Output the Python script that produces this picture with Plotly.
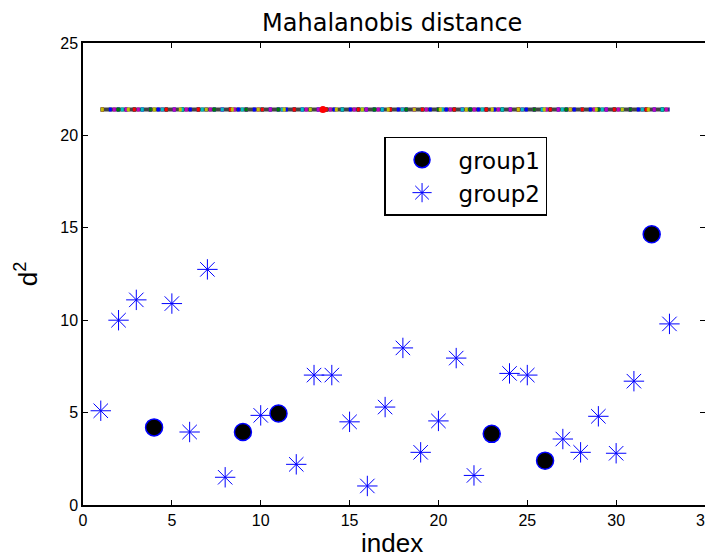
import plotly.graph_objects as go

# group1 (filled circles)
g1_x = [4, 9, 11, 23, 26, 32]
g1_y = [4.2, 3.95, 4.95, 3.85, 2.4, 14.65]

# group2 (asterisks)
g2_x = [1, 2, 3, 5, 6, 7, 8, 10, 12, 13, 14, 15, 16, 17, 18, 19, 20, 21, 22,
        24, 25, 27, 28, 29, 30, 31, 33]
g2_y = [5.1, 10.0, 11.1, 10.9, 3.95, 12.75, 1.5, 4.85, 2.2, 7.03, 7.03, 4.5, 1.03,
        5.3, 8.5, 2.85, 4.55, 7.95, 1.6, 7.12, 7.03, 3.57, 2.85, 4.8, 2.8, 6.7, 9.8]

# critical value line
thr_x = [1, 33]
thr_y = [21.4, 21.4]
red_x = [13.5]
red_y = [21.4]

font = "Liberation Sans, Arial, sans-serif"
wide = "DejaVu Sans, sans-serif"

fig = go.Figure()

# multicolor dotted threshold line
line_styles = [
    ("#444444", "solid", 4),
    ("#0000ff", "3px,5px", 4),
    ("#c000c0", "3px,9px", 4),
    ("#008000", "3px,13px", 4),
    ("#00bfbf", "3px,17px", 4),
    ("#ff0000", "3px,29px", 4),
    ("#bfbf00", "3px,23px", 4),
]
for c, d, w in line_styles:
    fig.add_trace(go.Scatter(x=thr_x, y=thr_y, mode="lines",
                             line=dict(color=c, dash=d, width=w),
                             showlegend=False, hoverinfo="skip"))
fig.add_trace(go.Scatter(x=red_x, y=red_y, mode="markers",
                         marker=dict(color="#ff0000", size=7),
                         showlegend=False))

fig.add_trace(go.Scatter(x=g1_x, y=g1_y, mode="markers", name="group1",
                         marker=dict(symbol="circle", size=17, color="black",
                                     line=dict(color="#0000ff", width=1.5))))
fig.add_trace(go.Scatter(x=g2_x, y=g2_y, mode="markers", name="group2",
                         marker=dict(symbol="asterisk-open", size=17, color="#0000ff",
                                     line=dict(color="#0000ff", width=1.0))))

# page body has an 8px margin: figure is laid out in page coords minus 8px
fig.update_layout(
    width=705, height=552,
    margin=dict(l=75, r=8, t=35, b=55, autoexpand=False),
    paper_bgcolor="white", plot_bgcolor="white",
    font=dict(family=font, size=16, color="black"),
    title=dict(text="Mahalanobis distance", x=0.545, xanchor="center",
               y=1 - 15 / 552, yanchor="middle", yref="container",
               font=dict(size=24, family=wide)),
    legend=dict(x=0.484, y=0.797, xanchor="left", yanchor="top",
                bordercolor="black", borderwidth=1.5, bgcolor="white",
                font=dict(size=23, family=wide), itemwidth=63,
                tracegroupgap=0),
    showlegend=True,
    annotations=[dict(text="index", xref="paper", yref="paper",
                      x=0.497, y=-55 / 462, xanchor="center", yanchor="bottom",
                      showarrow=False, font=dict(size=26, family=font))],
)
fig.update_xaxes(range=[0, 35], tickvals=[0, 5, 10, 15, 20, 25, 30, 35],
                 ticks="inside", ticklen=5, tickcolor="black", automargin=False,
                 ticklabeloverflow="allow",
                 showline=True, linecolor="black", linewidth=1.5, mirror="ticks",
                 showgrid=False, zeroline=False)
fig.update_yaxes(range=[0, 25], tickvals=[0, 5, 10, 15, 20, 25],
                 ticks="inside", ticklen=5, tickcolor="black", automargin=False,
                 showline=True, linecolor="black", linewidth=1.5, mirror="ticks",
                 showgrid=False, zeroline=False,
                 title=dict(text="d<sup>2</sup>", font=dict(size=26), standoff=15))

fig.write_html("out.html")
